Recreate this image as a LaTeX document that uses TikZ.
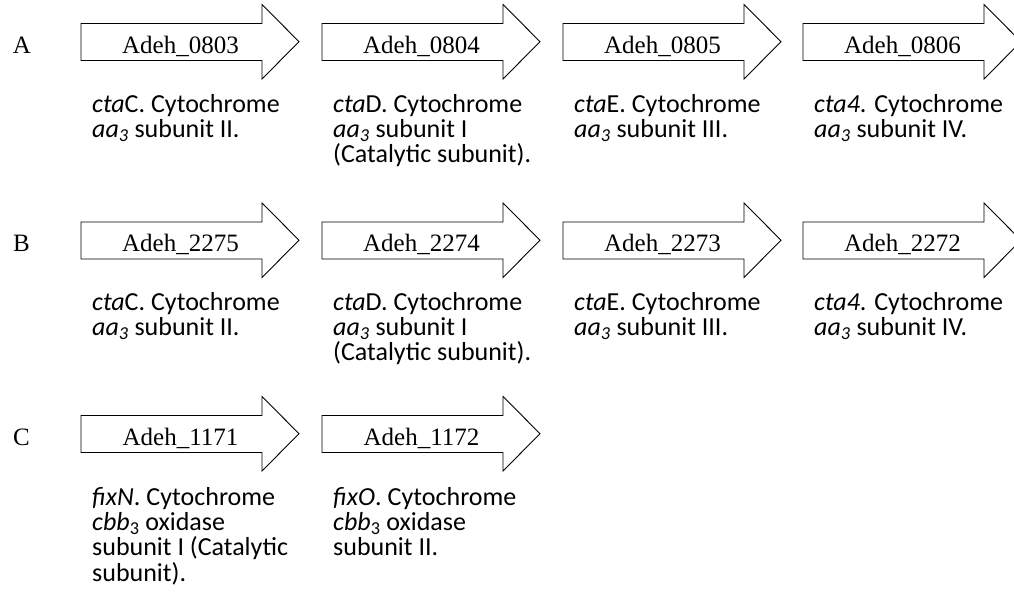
\documentclass[tikz,border=0pt]{standalone}
\usepackage{fontspec}
\setmainfont{Liberation Serif}
\newfontfamily\calib{Carlito}
\tikzset{
  genebody/.style={draw=black, line width=0.9pt, fill=white, line join=miter},
  genelabel/.style={font=\fontsize{25}{28}\selectfont, anchor=base, inner sep=0pt},
  rowletter/.style={font=\fontsize{25}{28}\selectfont, anchor=base west, inner sep=0pt},
  genedesc/.style={font=\calib\fontsize{26}{25}\selectfont, anchor=base west, inner sep=0pt},
  genedescwide/.style={font=\calib\fontsize{26}{25.2}\selectfont, anchor=base west, inner sep=0pt},
}
% #1 x of body left, #2 y of head top, #3 name, #4 label
\newcommand\genearrow[4]{%
  \draw[genebody] (#1,#2+19) -- (#1+181,#2+19) -- (#1+181,#2) -- (#1+218,#2+37.2)
     -- (#1+181,#2+74.5) -- (#1+181,#2+56) -- (#1,#2+56) -- cycle;
  \node[genelabel] (#3) at (#1+99.5,#2+48.5) {#4};
}
\newcommand\aasub{\textit{aa}\textsubscript{\textit{3}}}
\newcommand\cbbsub{\textit{cbb}\textsubscript{3}}
\begin{document}
\begin{tikzpicture}[x=1pt,y=-1pt]
\clip (0,0) rectangle (1014,600);
% Row A
\node[rowletter] (rA) at (12.7,53) {A};
\genearrow{81}{4.5}{a1}{Adeh\_0803}
\genearrow{322}{4.5}{a2}{Adeh\_0804}
\genearrow{563}{4.5}{a3}{Adeh\_0805}
\genearrow{803}{4.5}{a4}{Adeh\_0806}
\node[genedesc] (da1) at (92,112.5) {\vtop{\hbox{\textit{cta}C. Cytochrome}\hbox{\aasub{} subunit II.}}};
\node[genedesc] (da2) at (333,112.5) {\vtop{\hbox{\textit{cta}D. Cytochrome}\hbox{\aasub{} subunit I}\hbox{(Catalytic subunit).}}};
\node[genedesc] (da3) at (574,112.5) {\vtop{\hbox{\textit{cta}E. Cytochrome}\hbox{\aasub{} subunit III.}}};
\node[genedesc] (da4) at (814,112.5) {\vtop{\hbox{\textit{cta4}. Cytochrome}\hbox{\aasub{} subunit IV.}}};
% Row B
\node[rowletter] (rB) at (13,251.5) {B};
\genearrow{81}{203}{b1}{Adeh\_2275}
\genearrow{322}{203}{b2}{Adeh\_2274}
\genearrow{563}{203}{b3}{Adeh\_2273}
\genearrow{803}{203}{b4}{Adeh\_2272}
\node[genedesc] (db1) at (92,310.5) {\vtop{\hbox{\textit{cta}C. Cytochrome}\hbox{\aasub{} subunit II.}}};
\node[genedesc] (db2) at (333,310.5) {\vtop{\hbox{\textit{cta}D. Cytochrome}\hbox{\aasub{} subunit I}\hbox{(Catalytic subunit).}}};
\node[genedesc] (db3) at (574,310.5) {\vtop{\hbox{\textit{cta}E. Cytochrome}\hbox{\aasub{} subunit III.}}};
\node[genedesc] (db4) at (814,310.5) {\vtop{\hbox{\textit{cta4}. Cytochrome}\hbox{\aasub{} subunit IV.}}};
% Row C
\node[rowletter] (rC) at (13,445) {C};
\genearrow{81}{396.5}{c1}{Adeh\_1171}
\genearrow{322}{396.5}{c2}{Adeh\_1172}
\node[genedescwide] (dc1) at (92,505.5) {\vtop{\hbox{\textit{fixN}. Cytochrome}\hbox{\cbbsub{} oxidase}\hbox{subunit I (Catalytic}\hbox{subunit).}}};
\node[genedescwide] (dc2) at (333,505.5) {\vtop{\hbox{\textit{fixO}. Cytochrome}\hbox{\cbbsub{} oxidase}\hbox{subunit II.}}};
\end{tikzpicture}
\end{document}
